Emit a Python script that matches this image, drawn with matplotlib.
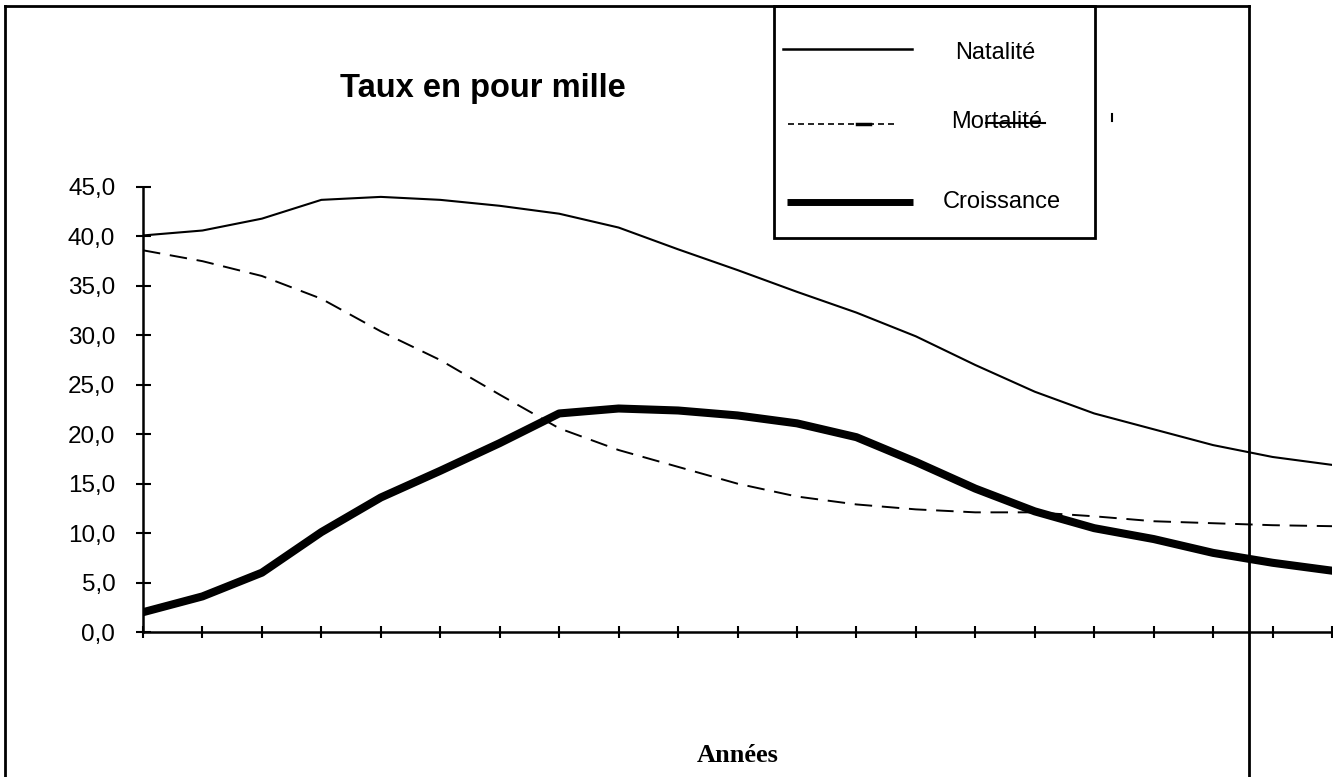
import matplotlib.pyplot as plt
from matplotlib.lines import Line2D
from matplotlib.patches import Rectangle

# Données (taux en pour mille)
periodes = list(range(21))
natalite = [40.1, 40.6, 41.8, 43.7, 44.0, 43.7, 43.1, 42.3, 40.9, 38.7, 36.6,
            34.4, 32.3, 29.9, 27.0, 24.3, 22.1, 20.5, 18.9, 17.7, 16.9]
mortalite = [38.6, 37.5, 36.0, 33.7, 30.4, 27.5, 24.0, 20.6, 18.4, 16.7, 15.0,
             13.7, 12.9, 12.4, 12.1, 12.1, 11.7, 11.2, 11.0, 10.8, 10.7]
croissance = [2.0, 3.6, 6.0, 10.1, 13.6, 16.3, 19.1, 22.1, 22.6, 22.4, 21.9,
              21.1, 19.7, 17.2, 14.5, 12.2, 10.5, 9.4, 8.0, 7.0, 6.2]

y_ticks = [0, 5, 10, 15, 20, 25, 30, 35, 40, 45]
y_labels = ['0,0', '5,0', '10,0', '15,0', '20,0', '25,0', '30,0', '35,0', '40,0', '45,0']

series_labels = ['Natalité', 'Mortalité', 'Croissance']

W, H = 1333, 777


def fx(x):
    return x / W


def fy(y):
    return 1 - y / H


fig = plt.figure(figsize=(W / 100, H / 100), dpi=100)
ax = fig.add_axes([fx(143), fy(632), fx(1332) - fx(143), fy(187) - fy(632)])

ax.plot(periodes, natalite, color='black', lw=1.5)
ax.plot(periodes, mortalite, color='black', lw=1.4, dashes=(9, 5))
ax.plot(periodes, croissance, color='black', lw=5.8, solid_joinstyle='round')

ax.set_xlim(0, 20)
ax.set_ylim(0, 45)
ax.set_xticks(periodes)
ax.set_yticks(y_ticks)
ax.set_yticklabels(y_labels, family='Liberation Sans', fontsize=17.5)

for side in ['top', 'right']:
    ax.spines[side].set_visible(False)
for side in ['left', 'bottom']:
    ax.spines[side].set_linewidth(1.8)

ax.tick_params(axis='x', direction='inout', length=8, width=1.5, labelbottom=False)
ax.tick_params(axis='y', direction='inout', length=10.8, width=1.5, pad=14.5)

# titre et axe
fig.text(fx(483), fy(88), 'Taux en pour mille', ha='center', va='center',
         fontsize=23.5, fontweight='bold', family='Liberation Sans')
fig.text(fx(738), fy(755), 'Années', ha='center', va='center',
         fontsize=19, fontweight='bold', family='Liberation Serif')

# cadre du graphique
frame_kw = dict(color='black', lw=2.0, transform=fig.transFigure)
fig.add_artist(Line2D([fx(5), fx(1249)], [fy(6), fy(6)], **frame_kw))
fig.add_artist(Line2D([fx(5), fx(5)], [fy(6), fy(777)], **frame_kw))
fig.add_artist(Line2D([fx(1249), fx(1249)], [fy(6), fy(777)], **frame_kw))

# légende
fig.add_artist(Rectangle((fx(774), fy(238)), fx(1095) - fx(774), fy(6) - fy(238),
                         facecolor='white', edgecolor='black', lw=2.0,
                         transform=fig.transFigure))
tf = fig.transFigure
fig.add_artist(Line2D([fx(783), fx(912)], [fy(49), fy(49)], color='black', lw=1.8, transform=tf))
fig.add_artist(Line2D([fx(788), fx(897)], [fy(124), fy(124)], color='black', lw=1.2,
                      dashes=(3.6, 2.4), transform=tf))
fig.add_artist(Line2D([fx(857), fx(870)], [fy(124), fy(124)], color='black', lw=2.5, transform=tf))
fig.add_artist(Line2D([fx(787), fx(913)], [fy(202), fy(202)], color='black', lw=5.0,
                      solid_capstyle='butt', transform=tf))

label_pos = [(955, 59), (951, 128), (943, 208)]
for lab, (px, py) in zip(series_labels, label_pos):
    fig.text(fx(px), fy(py), lab, ha='left', va='baseline', fontsize=17,
             family='Liberation Sans')

# petits artefacts de l'original
fig.add_artist(Line2D([fx(986), fx(1045)], [fy(123), fy(123)], color='black', lw=1.5, transform=tf))
fig.add_artist(Line2D([fx(1112), fx(1112)], [fy(114), fy(121)], color='black', lw=1.5, transform=tf))

fig.savefig('out.png', dpi=100)
